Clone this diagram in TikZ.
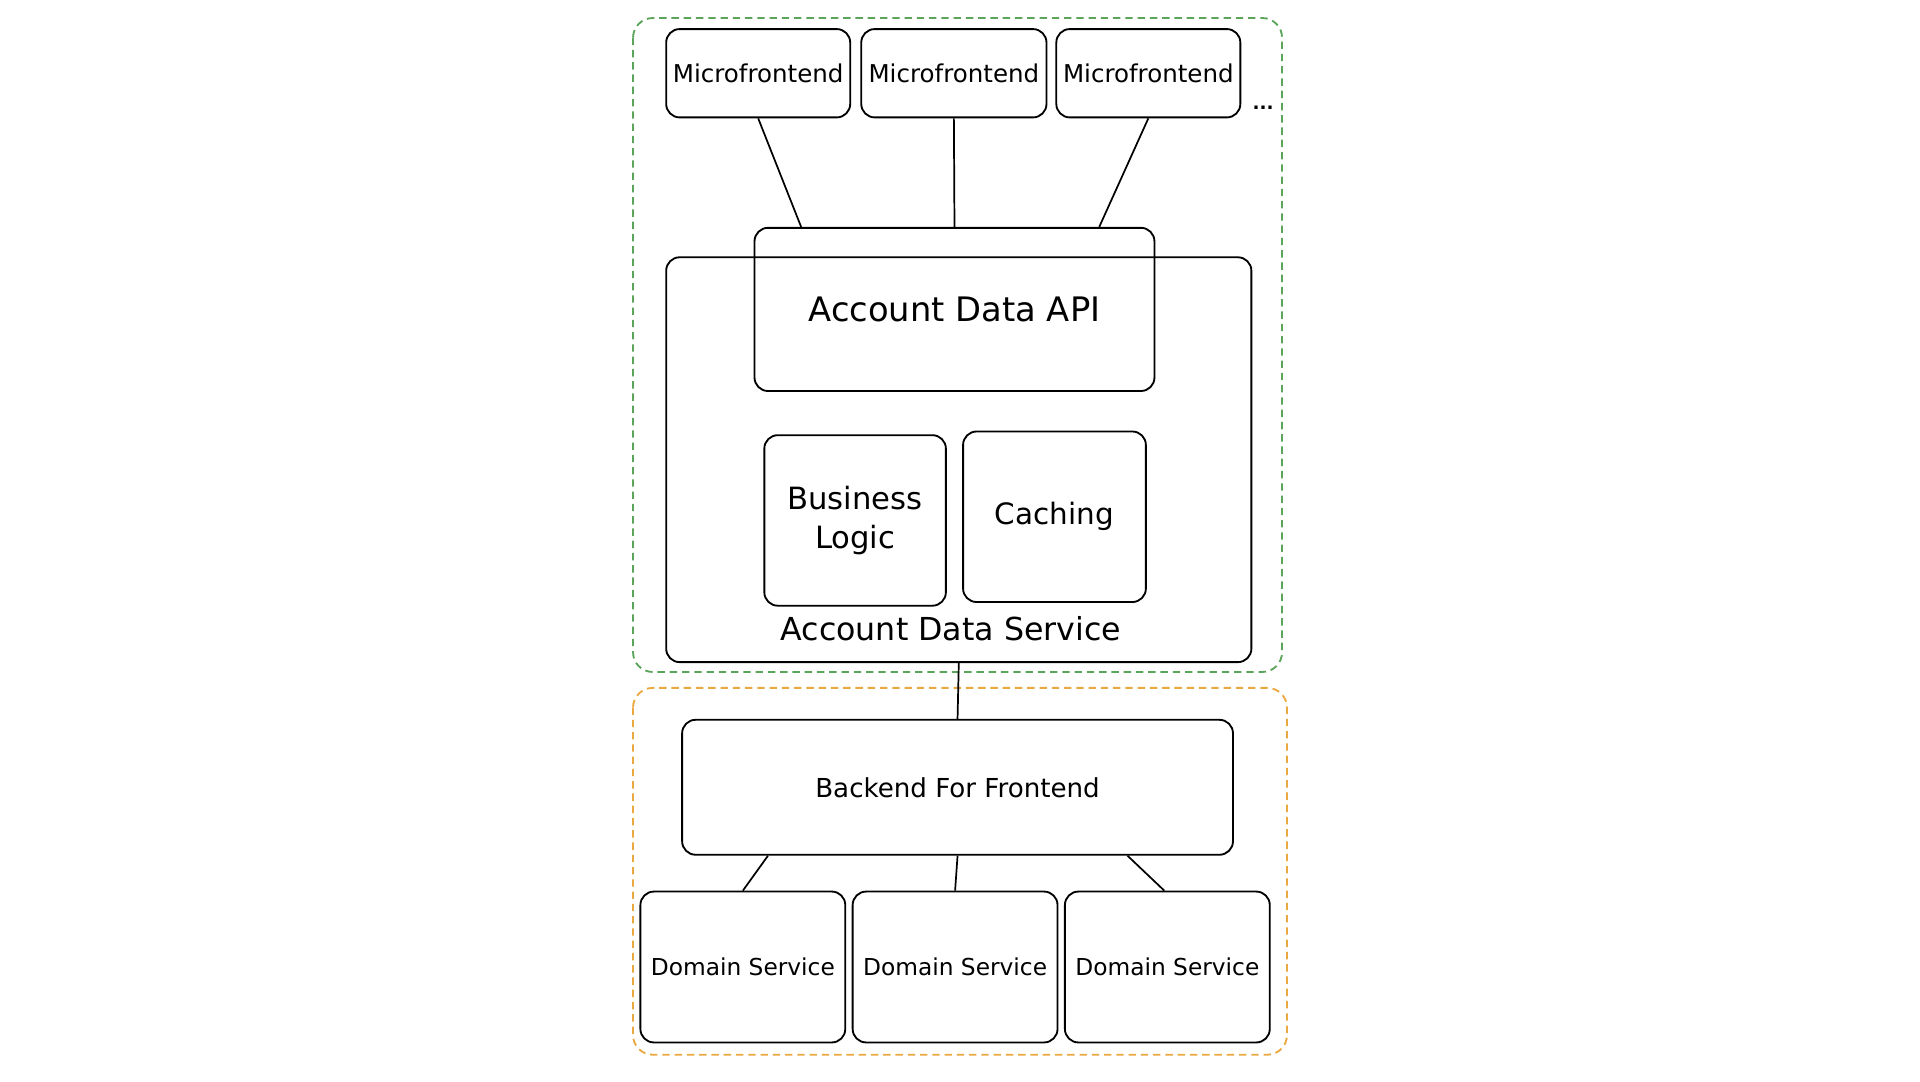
\documentclass[tikz,border=0pt]{standalone}
\usepackage{fontspec}
\setmainfont{DejaVu Sans}
\definecolor{grpgreen}{RGB}{90,165,90}
\definecolor{grporange}{RGB}{234,168,64}
\begin{document}
\begin{tikzpicture}[x=1pt,y=-1pt,
        box/.style={draw,line width=1.5pt,rounded corners=11pt,inner sep=0pt,align=center},
        grp/.style={draw,line width=1.5pt,dash pattern=on 6pt off 4pt,rounded corners=16pt},
        link/.style={line width=1.4pt}]
        \useasboundingbox (2,0.3) rectangle (1567,882);
        \draw[grp,grpgreen] (518,15) rectangle (1047,548);
        \draw[grp,grporange] (518,561) rectangle (1051,860);
        \node[box,minimum width=150pt,minimum height=72pt,font=\fontsize{20}{24}\selectfont] (mf1) at (620,60) {Microfrontend};
        \node[box,minimum width=151pt,minimum height=72pt,font=\fontsize{20}{24}\selectfont] (mf2) at (779.5,60) {Microfrontend};
        \node[box,minimum width=150pt,minimum height=72pt,font=\fontsize{20}{24}\selectfont] (mf3) at (938,60) {Microfrontend};
        \node[font=\bfseries\fontsize{15}{16}\selectfont] (more) at (1031.5,88) {...};
        \node[box,minimum width=477pt,minimum height=330pt] (svc) at (783.5,375) {};
        \node[font=\fontsize{25.8}{30}\selectfont] (svclabel) at (777,513) {Account Data Service};
        \node[box,minimum width=326pt,minimum height=133pt,font=\fontsize{27.5}{32}\selectfont] (api) at (780,252.5) {Account Data API};
        \node[box,minimum width=148pt,minimum height=139pt,font=\fontsize{25}{32}\selectfont] (logic) at (699,424.5) {Business\\Logic};
        \node[box,minimum width=149pt,minimum height=139pt,font=\fontsize{24}{28}\selectfont] (cache) at (861.5,421.5) {Caching};
        \node[box,minimum width=449pt,minimum height=110pt,font=\fontsize{21.3}{25}\selectfont] (bff) at (782.5,642) {Backend For Frontend};
        \node[box,minimum width=167pt,minimum height=123pt,font=\fontsize{19}{22}\selectfont] (ds1) at (607.5,788.5) {Domain Service};
        \node[box,minimum width=167pt,minimum height=123pt,font=\fontsize{19}{22}\selectfont] (ds2) at (780.5,788.5) {Domain Service};
        \node[box,minimum width=167pt,minimum height=123pt,font=\fontsize{19}{22}\selectfont] (ds3) at (953.5,788.5) {Domain Service};
        \draw[link] (mf1.south) -- ([xshift=-125pt]api.north);
        \draw[link] (mf2.south) -- (api.north);
        \draw[link] (mf3.south) -- ([xshift=118pt]api.north);
        \draw[link] (svc.south) -- (bff.north);
        \draw[link] ([xshift=-154.5pt]bff.south) -- (ds1.north);
        \draw[link] (bff.south) -- (ds2.north);
        \draw[link] ([xshift=138.5pt]bff.south) -- ([xshift=-2.5pt]ds3.north);
    \end{tikzpicture}
\end{document}
